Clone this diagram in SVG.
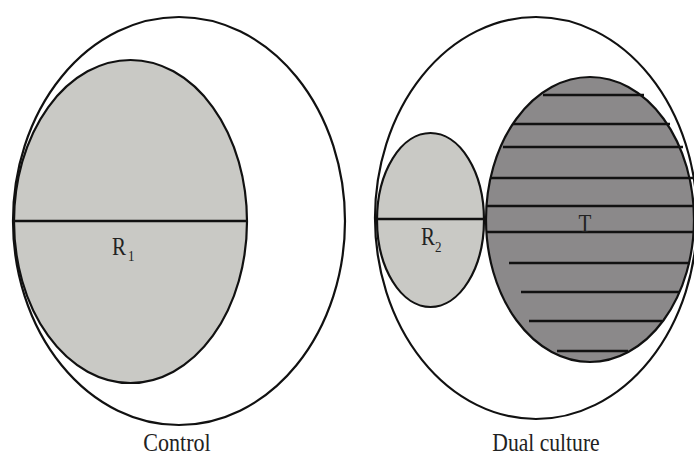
<svg xmlns="http://www.w3.org/2000/svg" width="694" height="457" viewBox="0 0 694 457">
<style>
.o{fill:none;stroke:#111;stroke-width:2.2}
.lg{fill:#c9c9c5;stroke:#111;stroke-width:2.2}
.dg{fill:#8b898a;stroke:#111;stroke-width:2.2}
.ln{stroke:#111;stroke-width:2.4}
.t{font-family:"Liberation Serif","Times New Roman",serif;font-size:21px;fill:#222}
.s{font-family:"Liberation Serif","Times New Roman",serif;font-size:13px;fill:#222}
</style>
<rect width="694" height="457" fill="#fff"/>
<g id="control">
<ellipse class="o" cx="179" cy="221" rx="166" ry="204"/>
<g id="R1">
<ellipse class="lg" cx="130.5" cy="221.5" rx="116.5" ry="161.5"/>
<line class="ln" x1="14" y1="221" x2="247" y2="221"/>
<text class="t" transform="translate(112,255) scale(1,1.2)">R</text><text class="s" transform="translate(128,261) scale(1,1.2)">1</text>
</g>
<text class="t" text-anchor="middle" transform="translate(177,451) scale(1.05,1.2)">Control</text>
</g>
<g id="dual">
<ellipse class="o" cx="536" cy="218" rx="161" ry="201"/>
<g id="R2">
<ellipse class="lg" cx="430.5" cy="220" rx="53.5" ry="87"/>
<line class="ln" x1="377" y1="219" x2="484" y2="219"/>
<text class="t" transform="translate(421,245) scale(1,1.2)">R</text><text class="s" transform="translate(435,252) scale(1,1.2)">2</text>
</g>
<g id="T">
<ellipse class="dg" cx="590" cy="219.5" rx="104" ry="142.5"/>
<g class="ln">
<line x1="543" y1="95" x2="644" y2="95"/>
<line x1="513" y1="124" x2="670" y2="124"/>
<line x1="503" y1="147" x2="683" y2="147"/>
<line x1="490" y1="178" x2="694" y2="178"/>
<line x1="487" y1="206" x2="694" y2="206"/>
<line x1="487" y1="232" x2="694" y2="232"/>
<line x1="509" y1="263" x2="690" y2="263"/>
<line x1="521" y1="292" x2="680" y2="292"/>
<line x1="529" y1="321" x2="662" y2="321"/>
<line x1="557" y1="351" x2="628" y2="351"/>
</g>
<text class="t" text-anchor="middle" transform="translate(585,232) scale(1,1.2)">T</text>
</g>
<text class="t" text-anchor="middle" transform="translate(546,451) scale(1.03,1.2)">Dual culture</text>
</g>
</svg>
